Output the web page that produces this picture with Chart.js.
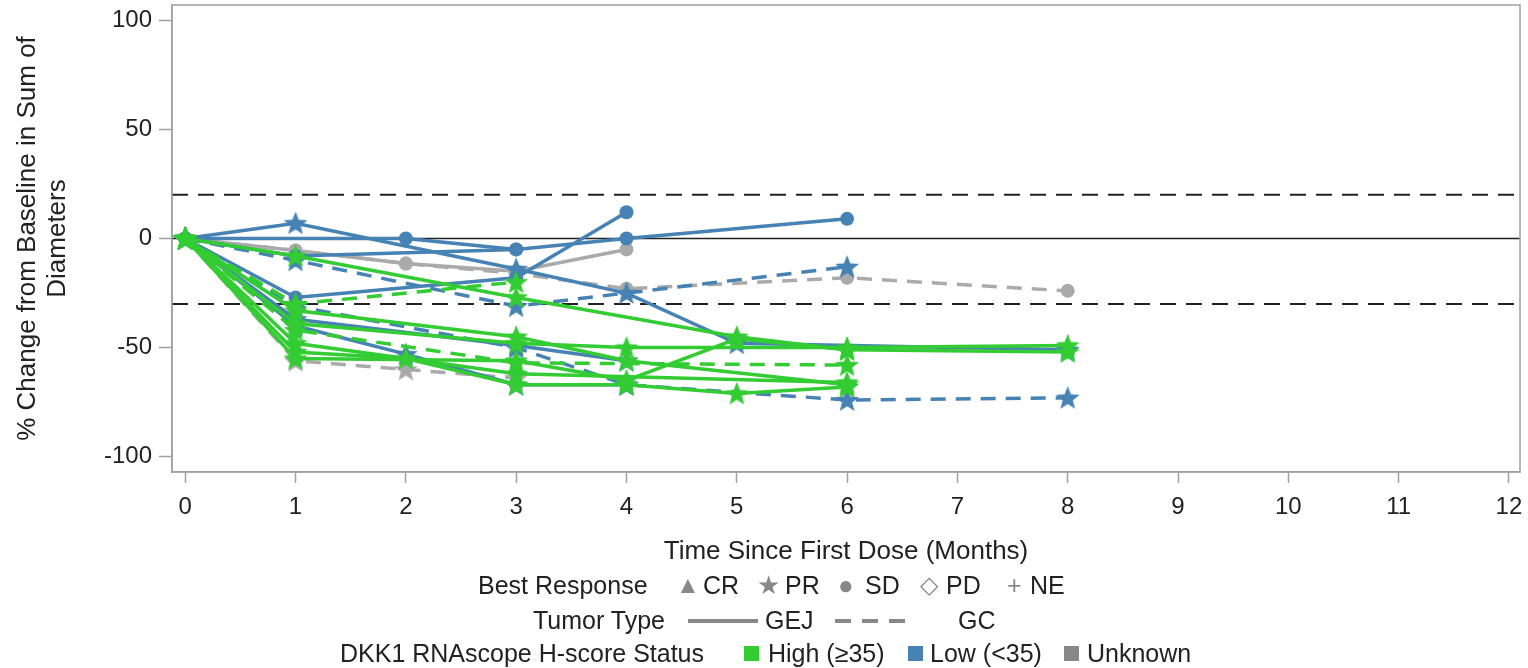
<!DOCTYPE html>
<html>
<head>
<meta charset="utf-8">
<script src="https://cdn.jsdelivr.net/npm/chart.js@4"></script>
<style>
  body { margin: 0; background: #fff; font-family: "Liberation Sans", Arial, sans-serif; }
  #wrap { position: relative; width: 1528px; height: 668px; }
  .lg { position: absolute; font-size: 25px; color: #222; white-space: nowrap; line-height: 30px; }
  .lg span { position: absolute; top: 0; }
  .mk { color: #888; }
  .ln { position: absolute; top: 14px; height: 4px; }
</style>
</head>
<body>
<div id="wrap">
  <canvas id="spider" width="1528" height="668"></canvas>

  <div class="lg" style="top:570px;left:0">
    <span style="left:478px">Best Response</span>
    <span class="mk" style="left:676px;font-size:24px">▲</span><span style="left:703px">CR</span>
    <span class="mk" style="left:757px;font-size:26px">★</span><span style="left:785px">PR</span>
    <span class="mk" style="left:838px;font-size:26px">●</span><span style="left:865px">SD</span>
    <span class="mk" style="left:920px;font-size:24px">◇</span><span style="left:946px">PD</span>
    <span class="mk" style="left:1007px">+</span><span style="left:1030px">NE</span>
  </div>
  <div class="lg" style="top:605px;left:0">
    <span style="left:533px">Tumor Type</span>
    <div class="ln" style="left:688px;width:70px;background:#888"></div>
    <span style="left:765px">GEJ</span>
    <div class="ln" style="left:835px;width:75px;background:repeating-linear-gradient(90deg,#888 0 16px,transparent 16px 27px)"></div>
    <span style="left:958px">GC</span>
  </div>
  <div class="lg" style="top:638px;left:0">
    <span style="left:340px">DKK1 RNAscope H-score Status</span>
    <span style="left:744px;top:8px;width:15px;height:15px;background:#33cc33"></span>
    <span style="left:768px">High (≥35)</span>
    <span style="left:908px;top:8px;width:15px;height:15px;background:#4682b4"></span>
    <span style="left:930px">Low (&lt;35)</span>
    <span style="left:1064px;top:8px;width:15px;height:15px;background:#888"></span>
    <span style="left:1087px">Unknown</span>
  </div>
</div>

<script>
// one entry per patient: DKK1 status, tumor type, best response, visit months, % change
const dkk1Status = ['High','High','High','High','High','High','High','High',
                    'Low','Low','Low','Low','Low','Low','Low','Low',
                    'Unknown','Unknown','Unknown'];
const tumorType = ['GEJ','GC','GEJ','GEJ','GEJ','GC','GEJ','GEJ',
                   'GEJ','GEJ','GEJ','GEJ','GC','GC','GEJ','GEJ',
                   'GEJ','GC','GC'];
const bestResponse = ['PR','PR','PR','PR','PR','PR','PR','PR',
                      'PR','SD','SD','SD','PR','PR','PR','PR',
                      'SD','SD','PR'];
const visitMonths = [
    [0,1,3,5,6,8], [0,1,3], [0,1,3,4,6], [0,1,3,4,6,8],
    [0,1,3,4,5,6], [0,1,3,6], [0,1,2,3,4,5,6], [0,1,3,6],
    [0,1,3,4,5,8], [0,2,3], [0,1,3,4,6], [0,1,3,4],
    [0,1,3,6], [0,1,3,4,6,8], [0,1,3,4], [0,1,2,3,4],
    [0,1,2,3,4], [0,1,2,3,4,6,8], [0,1,2,3]
];
const pctChange = [
    [0,-8,-27,-45,-51,-52], [0,-30,-20], [0,-33,-45,-56,-67], [0,-39,-48,-50,-50,-49],
    [0,-55,-56,-65,-46,-51], [0,-42,-57,-58], [0,-52,-55,-67,-67,-71,-68], [0,-48,-62,-66],
    [0,7,-14,-25,-48,-51], [0,0,-5], [0,-8,-5,0,9], [0,-27,-18,12],
    [0,-10,-31,-13], [0,-31,-50,-67,-74,-73], [0,-37,-49,-56], [0,-40,-53,-67,-67],
    [0,-5.5,-11.5,-15,-5], [0,-5.5,-11.5,-16,-23,-18,-24], [0,-56,-60,-64]
];
const xTicks = [0,1,2,3,4,5,6,7,8,9,10,11,12];
const yTicks = [-100,-50,0,50,100];
const refLines = [20, 0, -30];

const statusColor = { High: '#33cc33', Low: '#4682b4', Unknown: '#aaaaaa' };
const font = '"Liberation Sans", Arial, sans-serif';

function makeStar(color) {
    const c = document.createElement('canvas');
    c.width = 28; c.height = 28;
    const g = c.getContext('2d');
    g.beginPath();
    for (let i = 0; i < 10; i++) {
        const r = i % 2 === 0 ? 12.5 : 5.4;
        const a = -Math.PI / 2 + i * Math.PI / 5;
        g.lineTo(14 + r * Math.cos(a), 14.8 + r * Math.sin(a));
    }
    g.closePath();
    g.fillStyle = color;
    g.fill();
    return c;
}
const stars = {};
Object.keys(statusColor).forEach(k => stars[k] = makeStar(statusColor[k]));

const datasets = visitMonths.map((months, i) => {
    const color = statusColor[dkk1Status[i]];
    const isStar = bestResponse[i] === 'PR';
    return {
        data: months.map((m, j) => ({ x: m, y: pctChange[i][j] })),
        showLine: true,
        borderColor: color,
        backgroundColor: color,
        borderWidth: 3.5,
        borderDash: tumorType[i] === 'GC' ? [15, 10] : [],
        pointStyle: isStar ? stars[dkk1Status[i]] : 'circle',
        pointRadius: isStar ? 12 : 7,
        pointBorderWidth: 0,
        tension: 0
    };
});

const refLinePlugin = {
    id: 'refLines',
    beforeDatasetsDraw(chart) {
        const { ctx, chartArea, scales } = chart;
        ctx.save();
        refLines.forEach(v => {
            const y = scales.y.getPixelForValue(v);
            ctx.beginPath();
            ctx.strokeStyle = '#222';
            ctx.lineWidth = v === 0 ? 1.5 : 2;
            ctx.setLineDash(v === 0 ? [] : [16, 10]);
            ctx.moveTo(chartArea.left, y);
            ctx.lineTo(chartArea.right, y);
            ctx.stroke();
        });
        ctx.restore();
    }
};

const framePlugin = {
    id: 'frame',
    afterDraw(chart) {
        const { ctx, chartArea } = chart;
        ctx.save();
        ctx.strokeStyle = '#a0a0a0';
        ctx.lineWidth = 1.5;
        ctx.strokeRect(chartArea.left, chartArea.top, chartArea.right - chartArea.left, chartArea.bottom - chartArea.top);
        ctx.restore();
    }
};

new Chart(document.getElementById('spider').getContext('2d'), {
    type: 'scatter',
    data: { datasets },
    options: {
        responsive: false,
        animation: false,
        layout: { autoPadding: false, padding: { top: 5, right: 8, left: 0, bottom: 0 } },
        plugins: { legend: { display: false }, tooltip: { enabled: false } },
        scales: {
            x: {
                type: 'linear', min: -0.12, max: 12.1,
                afterBuildTicks: s => { s.ticks = xTicks.map(v => ({ value: v })); },
                afterFit: s => { s.height = 196; s.paddingLeft = 0; s.paddingRight = 0; },
                grid: { drawOnChartArea: false, tickLength: 11, tickColor: '#a0a0a0', tickWidth: 1.5 },
                border: { color: '#a0a0a0', width: 1.5 },
                ticks: { font: { size: 24, family: font }, color: '#222', padding: 10, maxRotation: 0, autoSkip: false },
                title: { display: true, text: 'Time Since First Dose (Months)', color: '#222',
                         font: { size: 26, family: font }, padding: { top: 0, bottom: 101 } }
            },
            y: {
                type: 'linear', min: -107, max: 107,
                afterBuildTicks: s => { s.ticks = yTicks.map(v => ({ value: v })); },
                afterFit: s => { s.width = 172; s.paddingTop = 0; s.paddingBottom = 0; },
                grid: { drawOnChartArea: false, tickLength: 13, tickColor: '#a0a0a0', tickWidth: 1.5 },
                border: { color: '#a0a0a0', width: 1.5 },
                ticks: { font: { size: 24, family: font }, color: '#222', padding: 7 },
                title: { display: true, text: ['% Change from Baseline in Sum of', 'Diameters'], color: '#222',
                         font: { size: 26, family: font, lineHeight: 1.15 }, padding: { top: 13, bottom: 0 } }
            }
        }
    },
    plugins: [refLinePlugin, framePlugin]
});
</script>
</body>
</html>
